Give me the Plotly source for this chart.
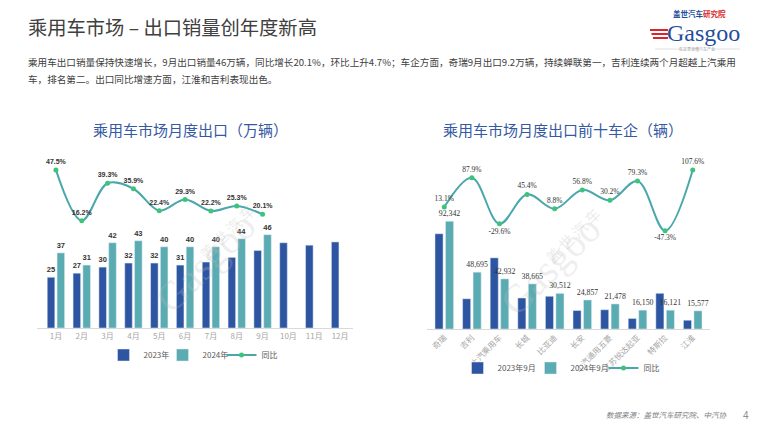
import plotly.graph_objects as go

W, H = 760, 428
OX, OY = 8, 8  # page body margin offset

# ---------------- data ----------------
months = ["1月", "2月", "3月", "4月", "5月", "6月", "7月", "8月", "9月", "10月", "11月", "12月"]
exp_2023 = [25, 27, 30, 32, 32, 31, 32.5, 34.8, 38.2, 42, 40.8, 42.4]
exp_2023_labels = ["25", "27", "30", "32", "32", "31", "", "", "", "", "", ""]
exp_2024 = [37, 31, 42, 43, 40, 40, 40, 44, 46, None, None, None]
exp_yoy = [47.5, 16.2, 39.3, 35.9, 22.4, 29.3, 22.2, 25.3, 20.1]

makers = ["奇瑞", "吉利", "上汽乘用车", "长城", "比亚迪", "长安", "上汽通用五菱", "江苏悦达起亚", "特斯拉", "江淮"]
maker_2023 = [81650, 25900, 60980, 26590, 28040, 15850, 16500, 9010, 30590, 7500]
maker_2024 = [92342, 48695, 42932, 38665, 30512, 24857, 21478, 16150, 16121, 15577]
maker_yoy = [13.1, 87.9, -29.6, 45.4, 8.8, 56.8, 30.2, 79.3, -47.3, 107.6]

C23 = "#2E55A1"
C24 = "#5BABB2"
CLINE = "#4AA7AC"
CMARK = "#3CC47A"
CJK = "Noto Sans CJK SC"
NUM = "Liberation Sans, Noto Sans CJK SC"
SER = "Liberation Serif, Noto Sans CJK SC"


def px_x(x):
    return (x - OX) / W


def px_y(y):
    return 1 - (y - OY) / H


fig = go.Figure()

# ---------------- left chart ----------------
fig.add_trace(go.Bar(
    x=months, y=exp_2023, name="2023年", marker_color=C23,
    text=exp_2023_labels, textposition="outside", cliponaxis=False, constraintext="none",
    textfont=dict(size=7.5, color="#333333", family=NUM, weight="bold"),
    xaxis="x", yaxis="y", legend="legend"))
fig.add_trace(go.Bar(
    x=months, y=exp_2024, name="2024年", marker_color=C24,
    text=[("" if v is None else str(v)) for v in exp_2024], textposition="outside",
    cliponaxis=False, constraintext="none",
    textfont=dict(size=7.5, color="#333333", family=NUM, weight="bold"),
    xaxis="x", yaxis="y", legend="legend"))
fig.add_trace(go.Scatter(
    x=months[:len(exp_yoy)], y=exp_yoy, name="同比", mode="lines+markers+text",
    line=dict(color=CLINE, width=2, shape="spline", smoothing=1.0),
    marker=dict(color=CMARK, size=5),
    text=[f"{v}%" for v in exp_yoy], textposition="top center", cliponaxis=False,
    textfont=dict(size=7, color="#333333", family=NUM, weight="bold"),
    xaxis="x", yaxis="y2", legend="legend"))

# ---------------- right chart ----------------
fig.add_trace(go.Bar(
    x=makers, y=maker_2023, name="2023年9月", marker_color=C23,
    xaxis="x2", yaxis="y3", legend="legend2"))
fig.add_trace(go.Bar(
    x=makers, y=maker_2024, name="2024年9月", marker_color=C24,
    text=[f"{v:,}" for v in maker_2024], textposition="outside", cliponaxis=False,
    constraintext="none",
    textfont=dict(size=7.8, color="#333333", family=SER),
    xaxis="x2", yaxis="y3", legend="legend2"))
fig.add_trace(go.Scatter(
    x=makers, y=maker_yoy, name="同比", mode="lines+markers+text",
    line=dict(color=CLINE, width=2, shape="spline", smoothing=1.0),
    marker=dict(color=CMARK, size=5),
    text=[f"{v}%" for v in maker_yoy],
    textposition=["top center" if v > 0 else "bottom center" for v in maker_yoy],
    cliponaxis=False,
    textfont=dict(size=7.5, color="#333333", family=SER),
    xaxis="x2", yaxis="y4", legend="legend2"))

axis_common = dict(showgrid=False, zeroline=False, automargin=False)

fig.update_layout(
    width=W, height=H, autosize=False, margin=dict(l=0, r=0, t=0, b=0, pad=0),
    paper_bgcolor="white", plot_bgcolor="rgba(0,0,0,0)",
    barmode="group", bargap=0.24, bargroupgap=0.23,
    font=dict(family=CJK, color="#404040"),
    xaxis=dict(domain=[px_x(37), px_x(353)], anchor="y", showline=True, linecolor="#D9D9D9",
               linewidth=1, ticks="", tickfont=dict(size=8, color="#A6A6A6"), **axis_common),
    yaxis=dict(domain=[px_y(328), px_y(150)], range=[0, 87.7], visible=False, **axis_common),
    yaxis2=dict(overlaying="y", anchor="x", range=[-50, 59.8], visible=False, **axis_common),
    xaxis2=dict(domain=[px_x(427), px_x(710)], anchor="y3", showline=True, linecolor="#D9D9D9",
                linewidth=1, ticks="", tickangle=-45, tickfont=dict(size=8, color="#A6A6A6"),
                **axis_common),
    yaxis3=dict(domain=[px_y(329), px_y(150)], range=[0, 153400], anchor="x2", visible=False,
                **axis_common),
    yaxis4=dict(overlaying="y3", anchor="x2", range=[-298, 158.6], visible=False, **axis_common),
    legend=dict(orientation="h", x=px_x(192), xanchor="center", y=px_y(355), yanchor="middle",
                font=dict(size=8, color="#595959"), itemwidth=30, traceorder="normal",
                entrywidth=14, entrywidthmode="pixels", bgcolor="rgba(0,0,0,0)"),
    legend2=dict(orientation="h", x=px_x(567), xanchor="center", y=px_y(368), yanchor="middle",
                 font=dict(size=8, color="#595959"), itemwidth=30, traceorder="normal",
                 entrywidth=28, entrywidthmode="pixels", bgcolor="rgba(0,0,0,0)"),
    showlegend=True,
)

ann = []
# main title
ann.append(dict(text="乘用车市场 – 出口销量创年度新高", x=px_x(26), y=px_y(27), xanchor="left",
                yanchor="middle", font=dict(size=19.3, color="#404040", family=CJK)))
ann.append(dict(text="乘用车出口销量保持快速增长，9月出口销量46万辆，同比增长20.1%，环比上升4.7%；车企方面，奇瑞9月出口9.2万辆，持续蝉联第一，吉利连续两个月超越上汽乘用",
                x=px_x(26), y=px_y(62), xanchor="left", yanchor="middle",
                font=dict(size=9.6, color="#404040", family=CJK)))
ann.append(dict(text="车，排名第二。出口同比增速方面，江淮和吉利表现出色。",
                x=px_x(26), y=px_y(79), xanchor="left", yanchor="middle",
                font=dict(size=9.6, color="#404040", family=CJK)))
# chart titles
ann.append(dict(text="乘用车市场月度出口（万辆）", x=px_x(190), y=px_y(130), xanchor="center",
                yanchor="middle", font=dict(size=15, color="#3559A2", family=CJK)))
ann.append(dict(text="乘用车市场月度出口前十车企（辆）", x=px_x(563), y=px_y(130), xanchor="center",
                yanchor="middle", font=dict(size=15, color="#3559A2", family=CJK)))
# watermarks
for cx, cy in [(215, 262), (560, 265)]:
    ann.append(dict(text="盖 世 汽 车", x=px_x(cx + 12), y=px_y(cy - 30), xanchor="center",
                    yanchor="middle", textangle=-45,
                    font=dict(size=15, color="rgba(190,190,190,0.30)", family=CJK)))
    ann.append(dict(text="Gasgoo", x=px_x(cx - 10), y=px_y(cy), xanchor="center", yanchor="middle",
                    textangle=-45, font=dict(size=40, color="rgba(190,190,190,0.25)",
                                             family="Liberation Serif")))
# footer
ann.append(dict(text="<i>数据来源：盖世汽车研究院、中汽协</i>", x=px_x(666), y=px_y(414),
                xanchor="center", yanchor="middle",
                font=dict(size=7.5, color="#7F7F7F", family=CJK)))
ann.append(dict(text="4", x=px_x(746), y=px_y(415), xanchor="center", yanchor="middle",
                font=dict(size=10, color="#8C8C8C", family=NUM)))
# logo
ann.append(dict(text="<b><span style='color:#1F4E9C'>盖世汽车</span><span style='color:#D9262C'>研究院</span></b>",
                x=px_x(699), y=px_y(14), xanchor="center", yanchor="middle",
                font=dict(size=7.5, family=CJK)))
ann.append(dict(text="Gasgoo", x=px_x(742), y=px_y(33), xanchor="right", yanchor="middle",
                font=dict(size=24, color="#1F4E9C", family="Liberation Serif")))
ann.append(dict(text="在这里读懂汽车产业", x=px_x(697), y=px_y(49), xanchor="center",
                yanchor="middle", font=dict(size=4, color="#9A9A9A", family=CJK)))
fig.update_layout(annotations=[dict(a, xref="paper", yref="paper", showarrow=False) for a in ann])

shapes = []
for i, yy in enumerate([30, 34, 38]):
    shapes.append(dict(type="line", xref="paper", yref="paper",
                       x0=px_x(650 + i * 1.5), x1=px_x(668), y0=px_y(yy), y1=px_y(yy),
                       line=dict(color="#D9262C", width=2)))
shapes.append(dict(type="line", xref="paper", yref="paper", x0=px_x(655), x1=px_x(682),
                   y0=px_y(49), y1=px_y(49), line=dict(color="#CCCCCC", width=0.6)))
shapes.append(dict(type="line", xref="paper", yref="paper", x0=px_x(712), x1=px_x(740),
                   y0=px_y(49), y1=px_y(49), line=dict(color="#CCCCCC", width=0.6)))
fig.update_layout(shapes=shapes)

fig.write_html("out.html")
